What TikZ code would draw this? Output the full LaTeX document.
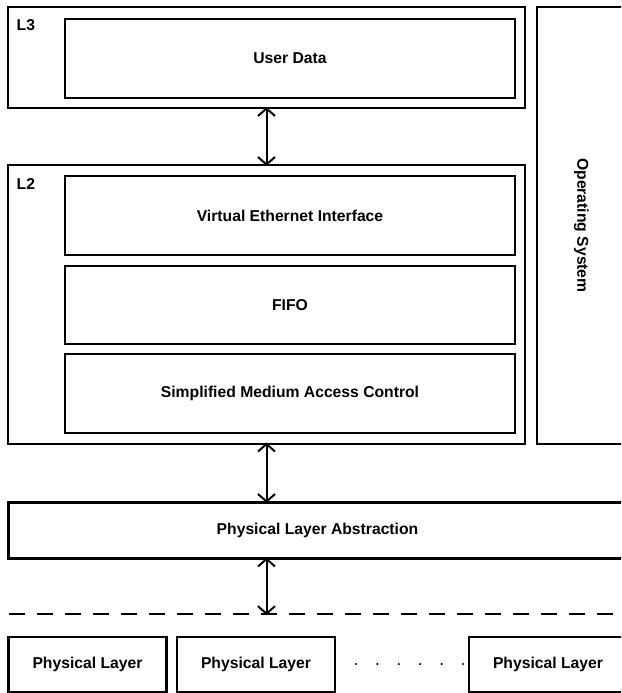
\documentclass[tikz,border=0pt]{standalone}
\usepackage{fontspec}
\setmainfont{Liberation Sans}
\usetikzlibrary{arrows.meta}
\begin{document}
\begin{tikzpicture}[x=1pt, y=-1pt,
  every node/.style={font=\fontsize{15.7}{18}\selectfont\bfseries},
  box/.style={draw=black, line width=2.3pt, rectangle, inner sep=0pt},
  tag/.style={anchor=west, inner sep=0pt},
  biarrow/.style={line width=2pt, {Straight Barb[length=7.5pt,width=17pt]}-{Straight Barb[length=7.5pt,width=17pt]}},
  busline/.style={line width=2.2pt, dash pattern=on 16pt off 12pt}]
  \useasboundingbox (0,0) rectangle (621,693);
  \clip (0,0) rectangle (621,693);

  % Layer 3
  \node[box, minimum width=517pt, minimum height=101pt] (l3) at (266.5,57.5) {};
  \node[tag] (l3tag) at (16.5,25.5) {L3};
  \node[box, minimum width=450pt, minimum height=79pt] (ud) at (290,58.5) {User Data};

  % Operating system column
  \node[box, minimum width=89pt, minimum height=437pt] (os) at (581.5,225.5) {};
  \node[rotate=-90] (ostext) at (os.center) {Operating System};

  % Layer 2
  \node[box, minimum width=517pt, minimum height=279pt] (l2) at (266.5,304.5) {};
  \node[tag] (l2tag) at (16.5,184) {L2};
  \node[box, minimum width=450pt, minimum height=79pt] (vei) at (290,215.5) {Virtual Ethernet Interface};
  \node[box, minimum width=450pt, minimum height=78pt] (fifo) at (290,305) {FIFO};
  \node[box, minimum width=450pt, minimum height=79pt] (smac) at (290,393.5) {Simplified Medium Access Control};

  % Physical layer abstraction
  \node[box, minimum width=618pt, minimum height=56pt] (pla) at (317.5,530.5) {Physical Layer Abstraction};

  % Bus and physical layers
  \coordinate (busl) at (8.7,614);
  \coordinate (busr) at (625,614);
  \draw[busline] (busl) -- (busr);
  \coordinate (bus) at (266.5,614);

  \node[box, minimum width=158pt, minimum height=55pt] (phy1) at (87.5,664.5) {Physical Layer};
  \node[box, minimum width=158pt, minimum height=55pt] (phy2) at (256,664.5) {Physical Layer};
  \node[box, minimum width=158pt, minimum height=55pt] (phy3) at (548,664.5) {Physical Layer};
  \foreach \i in {0,...,5}
    \fill (356+21.4*\i,664) circle (1.2pt);

  % Interlayer connectors
  \draw[biarrow] ([yshift=2pt]l3.south) -- ([yshift=-2pt]l2.north);
  \draw[biarrow] ([yshift=2.5pt]l2.south) -- ([yshift=-1.5pt]l2.south |- pla.north);
  \draw[biarrow] ([yshift=2pt]l2.south |- pla.south) -- ([yshift=-1pt]bus);
\end{tikzpicture}
\end{document}
